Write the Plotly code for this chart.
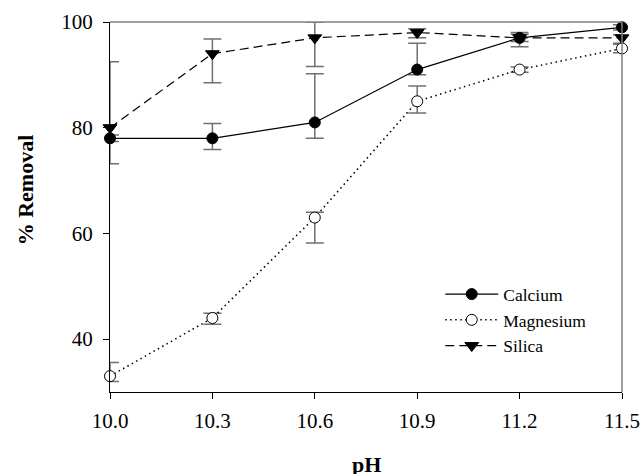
import plotly.graph_objects as go

ph = [10.0, 10.3, 10.6, 10.9, 11.2, 11.5]

calcium = [78, 78, 81, 91, 97, 99]
calcium_err_plus = [0.6, 2.8, 9.2, 5.0, 1.0, 0.5]
calcium_err_minus = [0.6, 2.1, 3.0, 1.0, 1.7, 0.5]

magnesium = [33, 44, 63, 85, 91, 95]
magnesium_err_plus = [2.6, 0.9, 1.0, 2.9, 0.5, 0.8]
magnesium_err_minus = [1.0, 1.2, 4.8, 2.2, 0.5, 0.8]

silica = [80, 94, 97, 98, 97, 97]
silica_err_plus = [12.5, 2.8, 3.0, 0.7, 0.7, 0.6]
silica_err_minus = [6.8, 5.5, 5.4, 1.0, 0.7, 1.0]

x_ticks = [10.0, 10.3, 10.6, 10.9, 11.2, 11.5]
x_tick_labels = ["10.0", "10.3", "10.6", "10.9", "11.2", "11.5"]
y_ticks = [40, 60, 80, 100]

FONT = "Liberation Serif"
ERR_COLOR = "#707070"

def err(plus, minus):
    return dict(type="data", symmetric=False, array=plus, arrayminus=minus,
                color=ERR_COLOR, thickness=1.5, width=9)

fig = go.Figure()

fig.add_trace(go.Scatter(
    x=ph, y=silica, name="Silica", mode="lines+markers",
    line=dict(color="black", width=1.2, dash="9px,5px"),
    marker=dict(symbol="triangle-down", size=12, color="black",
                line=dict(color="black", width=1)),
    error_y=err(silica_err_plus, silica_err_minus), cliponaxis=False,
))
fig.add_trace(go.Scatter(
    x=ph, y=magnesium, name="Magnesium", mode="lines+markers",
    line=dict(color="black", width=1.5, dash="1.5px,3.5px"),
    marker=dict(symbol="circle", size=11, color="white",
                line=dict(color="black", width=1)),
    error_y=err(magnesium_err_plus, magnesium_err_minus), cliponaxis=False,
))
fig.add_trace(go.Scatter(
    x=ph, y=calcium, name="Calcium", mode="lines+markers",
    line=dict(color="black", width=1.2),
    marker=dict(symbol="circle", size=11, color="black",
                line=dict(color="black", width=1)),
    error_y=err(calcium_err_plus, calcium_err_minus), cliponaxis=False,
))

fig.update_layout(
    width=644, height=474,
    margin=dict(l=110, r=22, t=22, b=82, autoexpand=False),
    paper_bgcolor="white", plot_bgcolor="white",
    font=dict(family=FONT, size=20, color="black"),
    showlegend=True,
    legend=dict(x=0.645, y=0.313, xanchor="left", yanchor="top",
                traceorder="reversed", bgcolor="rgba(0,0,0,0)",
                font=dict(family=FONT, size=17.5, color="black"),
                itemwidth=53, tracegroupgap=0),
    xaxis=dict(range=[10.0, 11.5], tickmode="array", tickvals=x_ticks,
               ticktext=x_tick_labels, ticks="outside", ticklen=6,
               tickcolor="black", showline=True, linecolor="black",
               linewidth=1, showgrid=False, zeroline=False,
               automargin=False, ticklabelstandoff=4,
               tickfont=dict(family=FONT, size=21)),
    yaxis=dict(range=[30, 100], tickmode="array", tickvals=y_ticks,
               ticks="outside", ticklen=6, tickcolor="black",
               showline=True, linecolor="black", linewidth=1,
               showgrid=False, zeroline=False,
               automargin=False, ticklabelstandoff=6,
               tickfont=dict(family=FONT, size=21)),
    shapes=[
        dict(type="line", xref="paper", yref="paper", x0=0, x1=1, y0=1, y1=1,
             line=dict(color="#808080", width=1.5)),
        dict(type="line", xref="paper", yref="paper", x0=1, x1=1, y0=0, y1=1,
             line=dict(color="#808080", width=1.5)),
    ],
    annotations=[
        dict(text="<b>pH</b>", xref="paper", yref="paper", x=0.5, y=0,
             xanchor="center", yanchor="middle", yshift=-72, showarrow=False,
             font=dict(family=FONT, size=22, color="black")),
        dict(text="<b>% Removal</b>", xref="paper", yref="paper", x=0, y=0.545,
             xanchor="center", yanchor="middle", xshift=-85, textangle=-90,
             showarrow=False, font=dict(family=FONT, size=22, color="black")),
    ],
)

fig.write_html("out.html", config={"displayModeBar": False},
               post_script="document.body.style.margin='0';document.body.style.overflow='hidden';")
